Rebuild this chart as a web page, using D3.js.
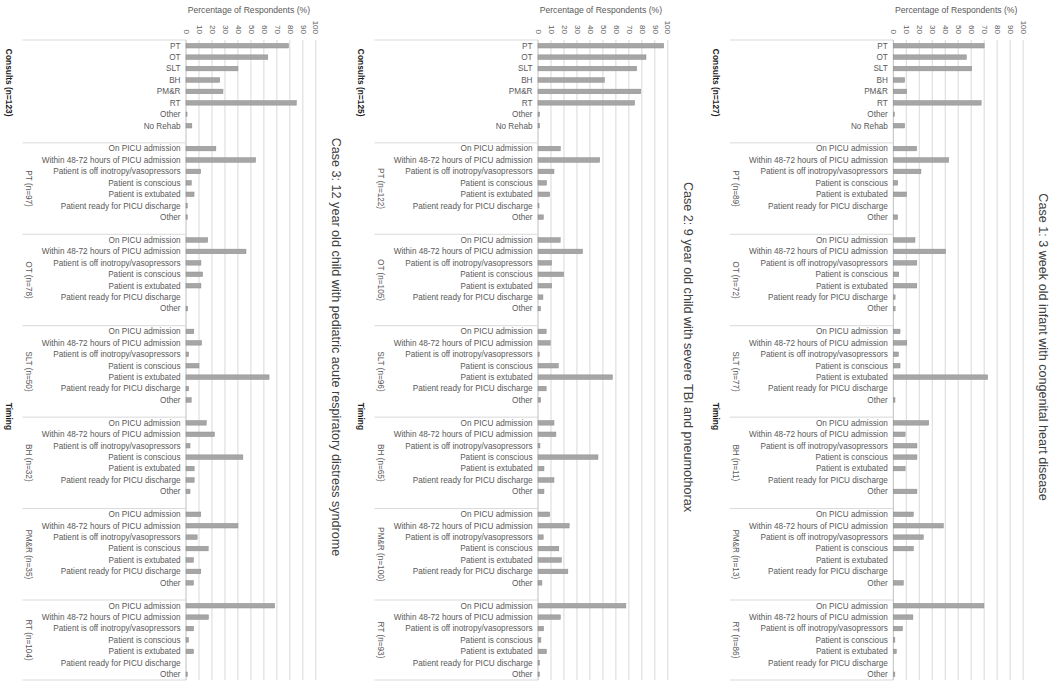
<!DOCTYPE html>
<html><head><meta charset="utf-8">
<script src="https://cdn.jsdelivr.net/npm/d3@7"></script>
<style>
html,body{margin:0;padding:0;background:#fff;}
svg{display:block;font-family:"Liberation Sans",Arial,sans-serif;}
</style></head>
<body><svg id="chart" width="1050" height="684"></svg>
<script>
// ---------- data ----------
const consultCategories = ["PT","OT","SLT","BH","PM&R","RT","Other","No Rehab"];
const timingCategories = ["On PICU admission","Within 48-72 hours of PICU admission","Patient is off inotropy/vasopressors","Patient is conscious","Patient is extubated","Patient ready for PICU discharge","Other"];
const timingGroups = ["PT","OT","SLT","BH","PM&R","RT"];
const xTicks = [0,10,20,30,40,50,60,70,80,90,100];
const caseTitles = [
  "Case 3: 12 year old child with pediatric acute respiratory distress syndrome",
  "Case 2: 9 year old child with severe TBI and pneumothorax",
  "Case 1: 3 week old infant with congenital heart disease"
];
const consultsN = [123,125,127];

// Case 3
const case3Consults = [79,63,40,26,28.5,85,0.8,4.5];
const case3GroupN = [97,78,50,32,35,104];
const case3PT  = [23,53.6,11.3,4.1,6.2,1,1];
const case3OT  = [16.7,46.2,11.5,12.8,11.5,0,1.3];
const case3SLT = [6,12,2,10,64,2,4];
const case3BH  = [15.6,21.9,3.1,43.8,6.3,6.3,3.1];
const case3PMR = [11.4,40,8.6,17.1,5.7,11.4,5.7];
const case3RT  = [68.3,17.3,5.8,1.9,5.8,0,1];

// Case 2
const case2Consults = [96.8,83.2,76,51.2,79.2,74.4,1.2,1.2];
const case2GroupN = [122,105,96,65,100,93];
const case2PT  = [17.2,47.5,12.3,6.6,9,0.8,4.1];
const case2OT  = [17.1,34.3,10.5,19.8,10.5,3.8,1.9];
const case2SLT = [6.3,9.4,1,15.6,57.3,6.3,2.1];
const case2BH  = [12.3,13.8,1.5,46.2,4.6,12.3,4.6];
const case2PMR = [9,24,4,16,18,23,3];
const case2RT  = [67.7,17.2,4.3,2.2,6.5,1.1,1.1];

// Case 1
const case1Consults = [70,56.3,60.3,8.7,10.3,67.7,0.8,8.7];
const case1GroupN = [89,72,77,11,13,86];
const case1PT  = [18,42.7,21.3,3.4,10.1,0,3.4];
const case1OT  = [16.7,40.3,18.1,4.2,18.1,1.4,1.4];
const case1SLT = [5.2,10.4,3.9,5.2,72.7,0,1.3];
const case1BH  = [27.3,9.1,18.2,18.2,9.1,0,18.2];
const case1PMR = [15.4,38.5,23.1,15.4,0,0,7.7];
const case1RT  = [69.8,15.1,7,1.2,2.3,0,1.2];

const panels = [
  {title: caseTitles[0], n: consultsN[0], consults: case3Consults, groupN: case3GroupN,
   timing: [case3PT,case3OT,case3SLT,case3BH,case3PMR,case3RT], x0: 186},
  {title: caseTitles[1], n: consultsN[1], consults: case2Consults, groupN: case2GroupN,
   timing: [case2PT,case2OT,case2SLT,case2BH,case2PMR,case2RT], x0: 538},
  {title: caseTitles[2], n: consultsN[2], consults: case1Consults, groupN: case1GroupN,
   timing: [case1PT,case1OT,case1SLT,case1BH,case1PMR,case1RT], x0: 893.3}
];

// ---------- layout ----------
const plotTop = 40, plotBottom = 680, plotW = 129.8;
const slots = [];
consultCategories.forEach((c,i)=>slots.push("c-"+i));
slots.push("c-blank");
timingGroups.forEach((g,gi)=>{
  timingCategories.forEach((c,i)=>slots.push("g"+gi+"-"+i));
  if (gi < timingGroups.length-1) slots.push("g"+gi+"-blank");
});
const y = d3.scaleBand().domain(slots).range([plotTop,plotBottom]);
const bw = y.bandwidth();
const barH = bw*0.4;

const svg = d3.select("#chart");
const gridColor = "#d9d9d9";
const labelColor = "#595959";

panels.forEach(p=>{
  const x = d3.scaleLinear().domain([0,100]).range([p.x0, p.x0+plotW]);
  const g = svg.append("g");

  // gridlines
  g.selectAll("line.grid").data(xTicks).join("line")
    .attr("x1",d=>x(d)).attr("x2",d=>x(d))
    .attr("y1",plotTop).attr("y2",plotBottom)
    .attr("stroke",d=>d===0?"#bfbfbf":gridColor).attr("stroke-width",1);

  // top axis tick labels (rotated)
  const axis = d3.axisTop(x).tickValues(xTicks).tickSize(0).tickPadding(0);
  const ag = g.append("g").attr("transform",`translate(0,34)`).call(axis);
  ag.select(".domain").remove();
  ag.selectAll("text")
    .attr("transform","rotate(90)")
    .attr("x",0).attr("y",0).attr("dy","0.35em")
    .attr("text-anchor","end")
    .attr("fill",labelColor).attr("font-size",8)
    .attr("font-family","Liberation Sans, Arial, sans-serif");

  // axis title
  g.append("text").attr("x",x(50)-2).attr("y",13).attr("text-anchor","middle")
    .attr("fill",labelColor).attr("font-size",8.6).text("Percentage of Respondents (%)");

  // separator lines (category group boundaries)
  const lx = p.x0 - 163.5;
  const bounds = [plotTop, y("c-blank")+bw];
  timingGroups.forEach((gname,gi)=>{
    if (gi < timingGroups.length-1) bounds.push(y("g"+gi+"-blank")+bw);
  });
  bounds.push(plotBottom);
  g.selectAll("line.sep").data(bounds).join("line")
    .attr("x1",lx).attr("x2",p.x0).attr("y1",d=>d).attr("y2",d=>d)
    .attr("stroke",gridColor).attr("stroke-width",1);

  // rows
  const rows = [];
  consultCategories.forEach((c,i)=>rows.push({key:"c-"+i,label:c,v:p.consults[i]}));
  timingGroups.forEach((gname,gi)=>{
    timingCategories.forEach((c,i)=>rows.push({key:"g"+gi+"-"+i,label:c,v:p.timing[gi][i]}));
  });

  g.selectAll("text.cat").data(rows).join("text")
    .attr("x",p.x0-5.5).attr("y",d=>y(d.key)+bw/2).attr("dy","0.35em")
    .attr("text-anchor","end").attr("fill",labelColor).attr("font-size",8.2)
    .text(d=>d.label);

  g.selectAll("rect.bar").data(rows.filter(d=>d.v>0)).join("rect")
    .attr("x",x(0)).attr("y",d=>y(d.key)+(bw-barH)/2)
    .attr("width",d=>Math.max(0.8,x(d.v)-x(0))).attr("height",barH)
    .attr("fill","#a6a6a6").attr("stroke","#8c8c8c").attr("stroke-width",0.5);

  // group labels (rotated)
  timingGroups.forEach((gname,gi)=>{
    const y0 = y("g"+gi+"-0");
    const y1 = gi < timingGroups.length-1 ? y("g"+gi+"-blank")+bw : plotBottom;
    const cy = (y0+y1)/2;
    g.append("text").attr("transform",`translate(${p.x0-157},${cy}) rotate(90)`)
      .attr("text-anchor","middle").attr("dy","0.35em")
      .attr("fill",labelColor).attr("font-size",8.2)
      .text(`${gname} (n=${p.groupN[gi]})`);
  });

  // outer labels
  const cY = (plotTop + y("c-blank"))/2 - 3;
  g.append("text").attr("transform",`translate(${p.x0-177},${cY}) rotate(90)`)
    .attr("text-anchor","middle").attr("dy","0.35em")
    .attr("fill","#1a1a1a").attr("font-size",8.4).attr("font-weight","bold")
    .text(`Consults (n=${p.n})`);
  const tY = (y("g0-0") + plotBottom)/2 + 5;
  g.append("text").attr("transform",`translate(${p.x0-177},${tY}) rotate(90)`)
    .attr("text-anchor","middle").attr("dy","0.35em")
    .attr("fill","#1a1a1a").attr("font-size",8.4).attr("font-weight","bold")
    .text("Timing");

  // case title
  g.append("text").attr("transform",`translate(${p.x0+150.5},347) rotate(90)`)
    .attr("text-anchor","middle").attr("dy","0.35em")
    .attr("fill","#404040").attr("font-size",12.6)
    .text(p.title);
});
</script>
</body></html>
